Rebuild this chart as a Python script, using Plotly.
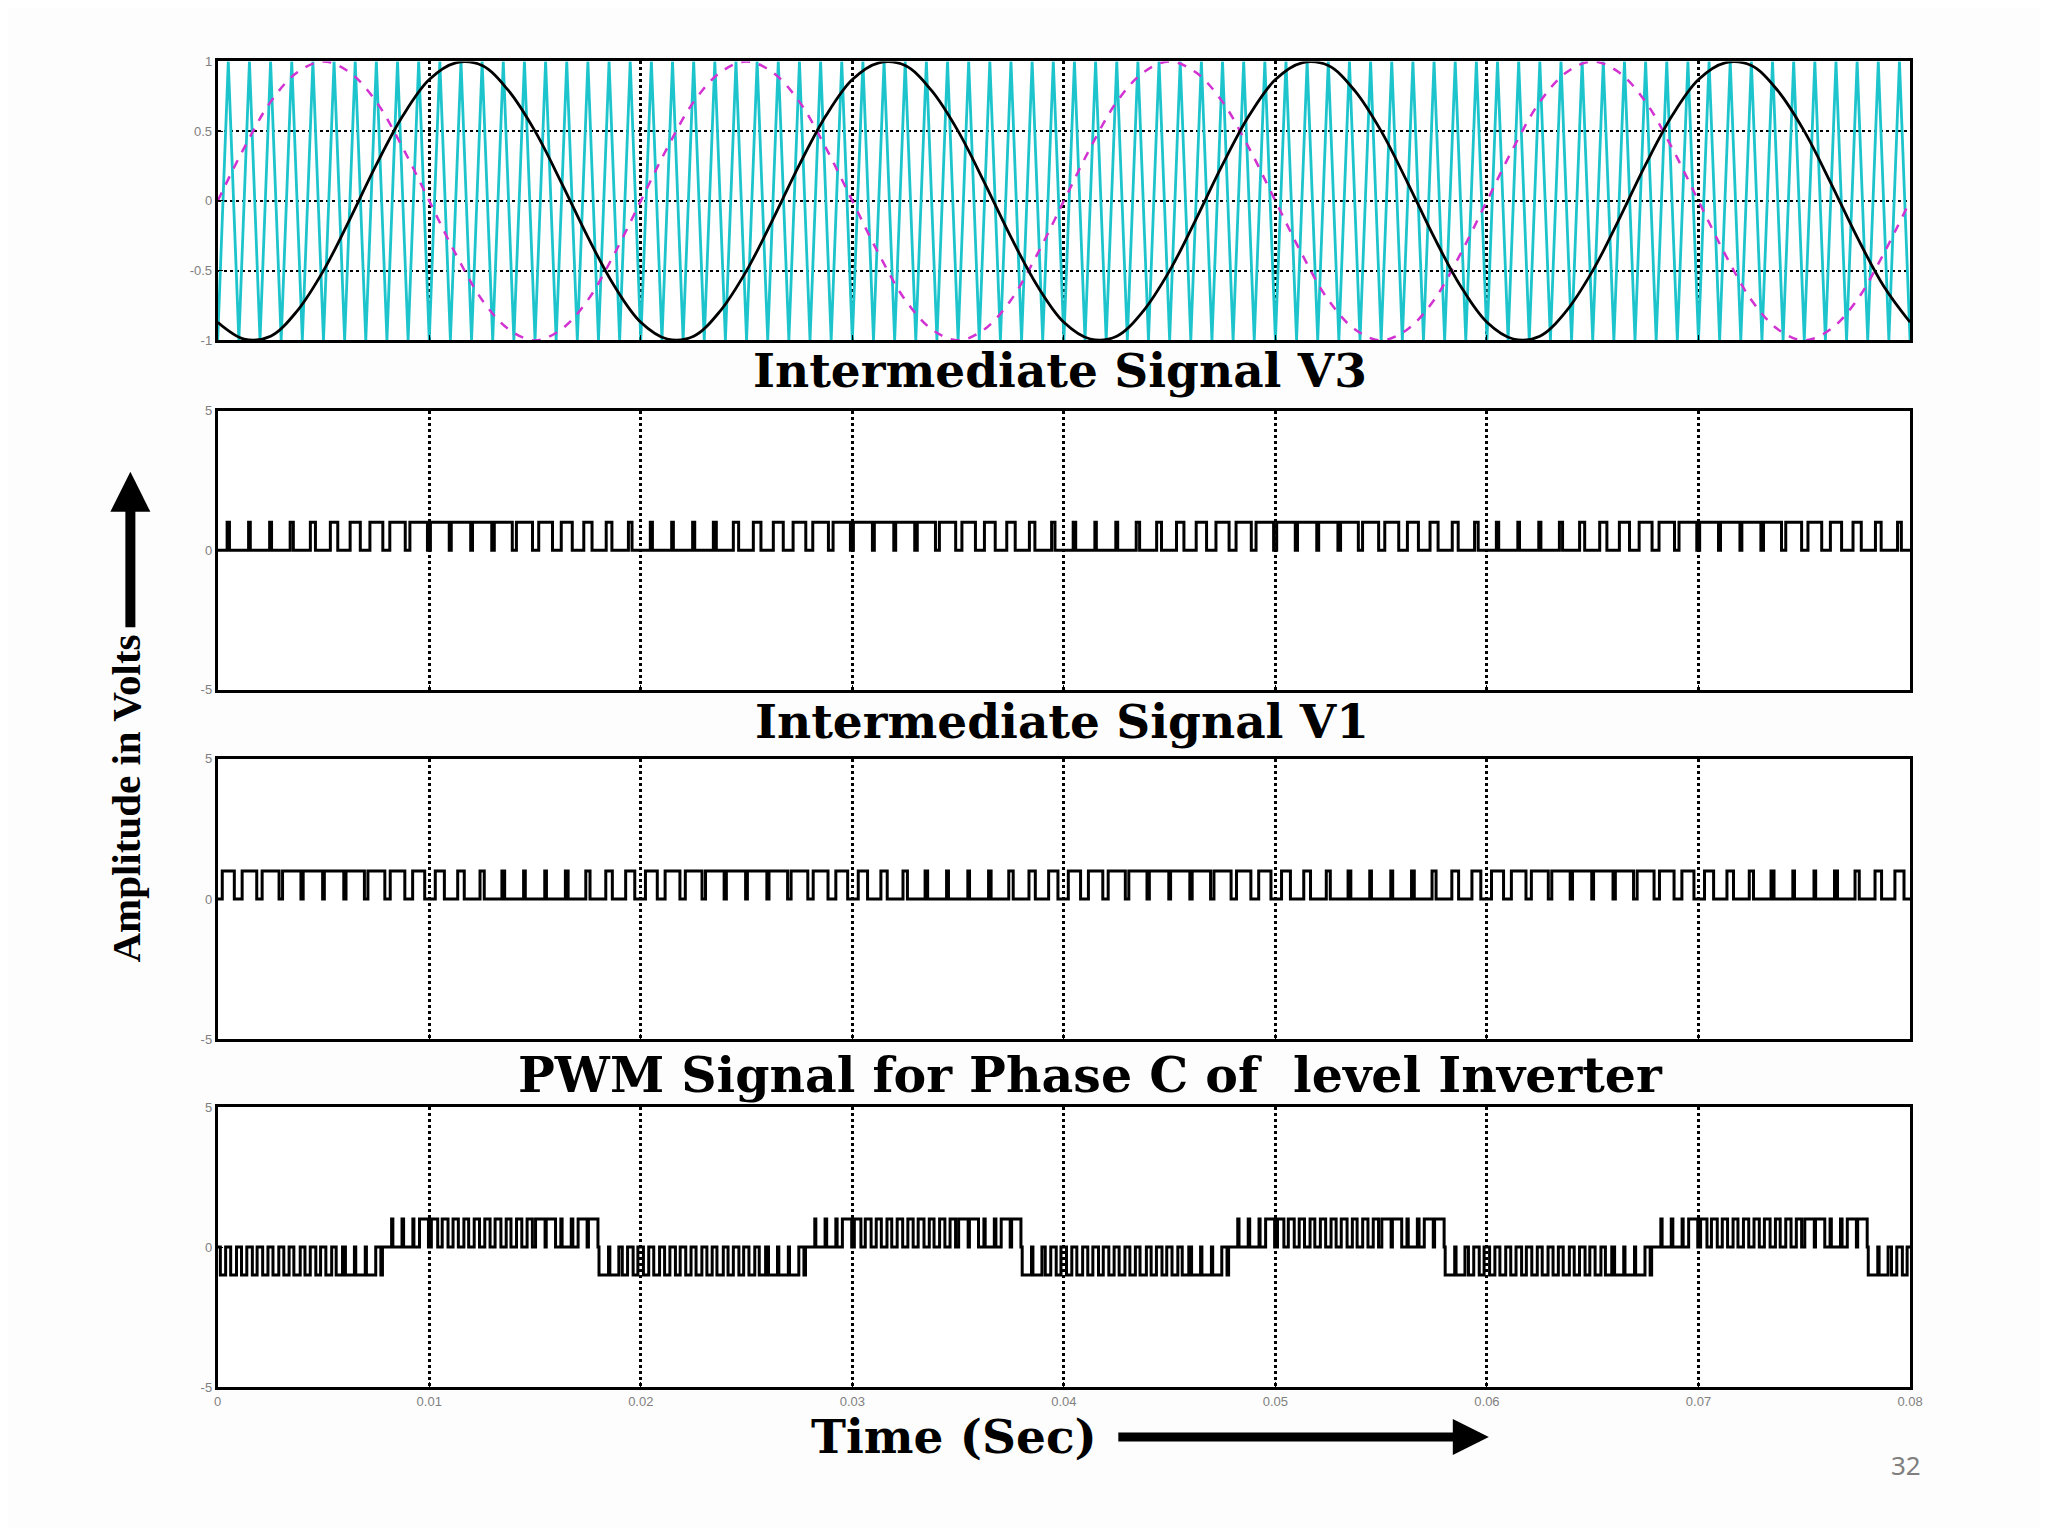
import plotly.graph_objects as go
from plotly.subplots import make_subplots

x_tick_vals = [0, 0.01, 0.02, 0.03, 0.04, 0.05, 0.06, 0.07, 0.08]
x_tick_text = ['0', '0.01', '0.02', '0.03', '0.04', '0.05', '0.06', '0.07', '0.08']

# top panel: triangular carrier vertices (ms) and their levels
carrier_ms = [
    0, 0.5, 1, 1.5, 2, 2.5, 3, 3.5, 4, 4.5, 5, 5.5, 6, 6.5, 7, 7.5, 8, 8.5, 9, 9.5,
    10, 10.5, 11, 11.5, 12, 12.5, 13, 13.5, 14, 14.5, 15, 15.5, 16, 16.5, 17, 17.5, 18, 18.5, 19, 19.5,
    20, 20.5, 21, 21.5, 22, 22.5, 23, 23.5, 24, 24.5, 25, 25.5, 26, 26.5, 27, 27.5, 28, 28.5, 29, 29.5,
    30, 30.5, 31, 31.5, 32, 32.5, 33, 33.5, 34, 34.5, 35, 35.5, 36, 36.5, 37, 37.5, 38, 38.5, 39, 39.5,
    40, 40.5, 41, 41.5, 42, 42.5, 43, 43.5, 44, 44.5, 45, 45.5, 46, 46.5, 47, 47.5, 48, 48.5, 49, 49.5,
    50, 50.5, 51, 51.5, 52, 52.5, 53, 53.5, 54, 54.5, 55, 55.5, 56, 56.5, 57, 57.5, 58, 58.5, 59, 59.5,
    60, 60.5, 61, 61.5, 62, 62.5, 63, 63.5, 64, 64.5, 65, 65.5, 66, 66.5, 67, 67.5, 68, 68.5, 69, 69.5,
    70, 70.5, 71, 71.5, 72, 72.5, 73, 73.5, 74, 74.5, 75, 75.5, 76, 76.5, 77, 77.5, 78, 78.5, 79, 79.5,
    80]
carrier_level = [
    -1, 1, -1, 1, -1, 1, -1, 1, -1, 1, -1, 1, -1, 1, -1, 1, -1, 1, -1, 1,
    -1, 1, -1, 1, -1, 1, -1, 1, -1, 1, -1, 1, -1, 1, -1, 1, -1, 1, -1, 1,
    -1, 1, -1, 1, -1, 1, -1, 1, -1, 1, -1, 1, -1, 1, -1, 1, -1, 1, -1, 1,
    -1, 1, -1, 1, -1, 1, -1, 1, -1, 1, -1, 1, -1, 1, -1, 1, -1, 1, -1, 1,
    -1, 1, -1, 1, -1, 1, -1, 1, -1, 1, -1, 1, -1, 1, -1, 1, -1, 1, -1, 1,
    -1, 1, -1, 1, -1, 1, -1, 1, -1, 1, -1, 1, -1, 1, -1, 1, -1, 1, -1, 1,
    -1, 1, -1, 1, -1, 1, -1, 1, -1, 1, -1, 1, -1, 1, -1, 1, -1, 1, -1, 1,
    -1, 1, -1, 1, -1, 1, -1, 1, -1, 1, -1, 1, -1, 1, -1, 1, -1, 1, -1, 1,
    -1]

# reference waves (ms)
ref_ms = [
    0, 1.25, 2.5, 3.75, 5, 6.25, 7.5, 8.75, 10, 11.25, 12.5, 13.75, 15, 16.25, 17.5, 18.75,
    20, 21.25, 22.5, 23.75, 25, 26.25, 27.5, 28.75, 30, 31.25, 32.5, 33.75, 35, 36.25, 37.5, 38.75,
    40, 41.25, 42.5, 43.75, 45, 46.25, 47.5, 48.75, 50, 51.25, 52.5, 53.75, 55, 56.25, 57.5, 58.75,
    60, 61.25, 62.5, 63.75, 65, 66.25, 67.5, 68.75, 70, 71.25, 72.5, 73.75, 75, 76.25, 77.5, 78.75,
    80]
ref_magenta = [
    0, 0.38, 0.71, 0.92, 1, 0.92, 0.71, 0.38, 0, -0.38, -0.71, -0.92, -1, -0.92, -0.71, -0.38,
    0, 0.38, 0.71, 0.92, 1, 0.92, 0.71, 0.38, 0, -0.38, -0.71, -0.92, -1, -0.92, -0.71, -0.38,
    0, 0.38, 0.71, 0.92, 1, 0.92, 0.71, 0.38, 0, -0.38, -0.71, -0.92, -1, -0.92, -0.71, -0.38,
    0, 0.38, 0.71, 0.92, 1, 0.92, 0.71, 0.38, 0, -0.38, -0.71, -0.92, -1, -0.92, -0.71, -0.38,
    0]
ref_black = [
    -0.87, -0.99, -0.97, -0.79, -0.5, -0.13, 0.26, 0.61, 0.87, 0.99, 0.97, 0.79, 0.5, 0.13, -0.26, -0.61,
    -0.87, -0.99, -0.97, -0.79, -0.5, -0.13, 0.26, 0.61, 0.87, 0.99, 0.97, 0.79, 0.5, 0.13, -0.26, -0.61,
    -0.87, -0.99, -0.97, -0.79, -0.5, -0.13, 0.26, 0.61, 0.87, 0.99, 0.97, 0.79, 0.5, 0.13, -0.26, -0.61,
    -0.87, -0.99, -0.97, -0.79, -0.5, -0.13, 0.26, 0.61, 0.87, 0.99, 0.97, 0.79, 0.5, 0.13, -0.26, -0.61,
    -0.87]

# intermediate signals: pulse width (fraction of a 1 ms slot)
slot_ms = 1.0
v3_duty = [
    0.11, 0.08, 0.09, 0.15, 0.24, 0.35, 0.48, 0.61, 0.73, 0.83, 0.89, 0.92, 0.91, 0.85, 0.76, 0.65, 0.52, 0.39, 0.27, 0.17,
    0.10, 0.08, 0.10, 0.14, 0.25, 0.36, 0.47, 0.60, 0.74, 0.82, 0.90, 0.92, 0.90, 0.86, 0.77, 0.64, 0.51, 0.40, 0.26, 0.16,
    0.12, 0.07, 0.09, 0.16, 0.23, 0.35, 0.49, 0.62, 0.72, 0.83, 0.88, 0.91, 0.91, 0.84, 0.76, 0.66, 0.52, 0.38, 0.28, 0.17,
    0.11, 0.08, 0.10, 0.15, 0.24, 0.34, 0.48, 0.61, 0.73, 0.84, 0.89, 0.92, 0.90, 0.85, 0.75, 0.65, 0.53, 0.39, 0.27, 0.18]
v1_duty = [
    0.57, 0.69, 0.80, 0.87, 0.92, 0.92, 0.87, 0.80, 0.69, 0.57, 0.43, 0.31, 0.20, 0.13, 0.08, 0.08, 0.13, 0.20, 0.31, 0.43,
    0.56, 0.70, 0.79, 0.88, 0.91, 0.92, 0.88, 0.79, 0.70, 0.56, 0.44, 0.30, 0.21, 0.12, 0.09, 0.08, 0.12, 0.21, 0.30, 0.44,
    0.58, 0.68, 0.81, 0.86, 0.92, 0.91, 0.87, 0.81, 0.68, 0.58, 0.42, 0.32, 0.19, 0.13, 0.08, 0.09, 0.13, 0.19, 0.32, 0.42,
    0.57, 0.69, 0.80, 0.87, 0.91, 0.92, 0.86, 0.80, 0.69, 0.57, 0.43, 0.31, 0.20, 0.14, 0.08, 0.08, 0.14, 0.20, 0.31, 0.43]

# phase C PWM: 0.5 ms slots, sign set by half cycles
pwm_slot_ms = 0.5
pwm_duty = [
    0.50, 0.55, 0.50, 0.45, 0.50, 0.55, 0.50, 0.60, 0.50, 0.45, 0.55, 0.60, 0.85, 0.90, 0.88, 0.15,
    0.12, 0.15, 0.10, 0.85, 0.60, 0.55, 0.50, 0.45, 0.50, 0.50, 0.55, 0.45, 0.50, 0.50, 0.90, 0.88, 0.12, 0.15, 0.85, 0.90,
    0.90, 0.85, 0.50, 0.45, 0.50, 0.55, 0.50, 0.45, 0.50, 0.55, 0.50, 0.60, 0.50, 0.45, 0.55, 0.60, 0.85, 0.90, 0.88, 0.15,
    0.10, 0.15, 0.12, 0.88, 0.62, 0.55, 0.48, 0.45, 0.52, 0.50, 0.55, 0.45, 0.50, 0.52, 0.90, 0.86, 0.12, 0.15, 0.85, 0.88,
    0.88, 0.85, 0.52, 0.45, 0.50, 0.55, 0.48, 0.45, 0.50, 0.55, 0.52, 0.60, 0.50, 0.45, 0.55, 0.62, 0.85, 0.90, 0.86, 0.15,
    0.12, 0.14, 0.10, 0.85, 0.60, 0.56, 0.50, 0.45, 0.50, 0.48, 0.55, 0.45, 0.50, 0.50, 0.88, 0.88, 0.12, 0.16, 0.85, 0.90,
    0.90, 0.84, 0.50, 0.46, 0.50, 0.55, 0.50, 0.45, 0.52, 0.55, 0.50, 0.58, 0.50, 0.45, 0.55, 0.60, 0.86, 0.90, 0.88, 0.14,
    0.12, 0.15, 0.10, 0.86, 0.60, 0.55, 0.50, 0.46, 0.50, 0.50, 0.54, 0.45, 0.50, 0.50, 0.90, 0.88, 0.12, 0.15, 0.86, 0.90,
    0.90, 0.85, 0.50, 0.45]
pwm_bounds_ms = [0, 8, 18, 28, 38, 48, 58, 68, 78, 80]
pwm_sign = [-1, 1, -1, 1, -1, 1, -1, 1, -1]


def pulse_train(duty, slot, levels):
    xs, ys = [0.0], [0.0]
    for k, d in enumerate(duty):
        c = (k + 0.5) * slot
        xs += [(c - d * slot / 2) / 1000, (c + d * slot / 2) / 1000]
        ys += [levels[k], 0]
    xs.append(0.08)
    ys.append(0)
    return xs, ys


def pwm_levels():
    out = []
    for k in range(len(pwm_duty)):
        c = (k + 0.5) * pwm_slot_ms
        for i in range(len(pwm_sign)):
            if pwm_bounds_ms[i] <= c < pwm_bounds_ms[i + 1]:
                out.append(pwm_sign[i])
                break
    return out


W, H = 2032, 1520


def px(x, y):
    # screen pixel -> paper coords (page offset/scale measured from a render)
    fx = (x - 9.4) / 0.9935
    fy = (y - 12.3) / 0.992
    return fx / W, 1 - fy / H


fig = make_subplots(rows=4, cols=1)

fig.add_trace(go.Scatter(x=[t / 1000 for t in carrier_ms], y=carrier_level, mode='lines',
                         line=dict(color='rgb(30,196,204)', width=2.8)), row=1, col=1)
fig.add_trace(go.Scatter(x=[t / 1000 for t in ref_ms], y=ref_magenta, mode='lines',
                         line=dict(color='rgb(210,50,210)', width=2.5, dash='dash', shape='spline')),
              row=1, col=1)
fig.add_trace(go.Scatter(x=[t / 1000 for t in ref_ms], y=ref_black, mode='lines',
                         line=dict(color='black', width=2.8, shape='spline')), row=1, col=1)

x3, y3 = pulse_train(v3_duty, slot_ms, [1] * len(v3_duty))
fig.add_trace(go.Scatter(x=x3, y=y3, mode='lines', line=dict(color='black', width=3, shape='hv')),
              row=2, col=1)
x1, y1 = pulse_train(v1_duty, slot_ms, [1] * len(v1_duty))
fig.add_trace(go.Scatter(x=x1, y=y1, mode='lines', line=dict(color='black', width=3, shape='hv')),
              row=3, col=1)
xp, yp = pulse_train(pwm_duty, pwm_slot_ms, pwm_levels())
fig.add_trace(go.Scatter(x=xp, y=yp, mode='lines', line=dict(color='black', width=3, shape='hv')),
              row=4, col=1)

tick_font = dict(family='Liberation Sans', size=13, color='#808080')
x_dom = [px(215.5, 0)[0], px(1911, 0)[0]]
panel_px = [(58.8, 338.3), (408.8, 688.3), (757.6, 1038.4), (1106.3, 1387.1)]
for i in range(4):
    top, bot = panel_px[i]
    dom = [px(0, bot)[1], px(0, top)[1]]
    fig.update_xaxes(row=i + 1, col=1, domain=x_dom, range=[0, 0.08],
                     tickvals=x_tick_vals, ticktext=x_tick_text, showticklabels=(i == 3),
                     showgrid=True, griddash='dot', gridcolor='black', gridwidth=2.5,
                     showline=True, mirror=True, linecolor='black', linewidth=3,
                     ticks='inside', ticklen=5, tickcolor='black', zeroline=False,
                     tickfont=tick_font)
    if i == 0:
        fig.update_yaxes(row=1, col=1, domain=dom, range=[-1, 1],
                         tickvals=[-1, -0.5, 0, 0.5, 1], ticktext=['-1', '-0.5', '0', '0.5', '1'],
                         showgrid=True, griddash='dot', gridcolor='black', gridwidth=2)
    else:
        fig.update_yaxes(row=i + 1, col=1, domain=dom, range=[-5, 5],
                         tickvals=[-5, 0, 5], ticktext=['-5', '0', '5'], showgrid=False)
    fig.update_yaxes(row=i + 1, col=1, showline=True, mirror=True, linecolor='black', linewidth=3,
                     ticks='inside', ticklen=5, tickcolor='black', zeroline=False, tickfont=tick_font)

notes = [
    ('<b>Intermediate Signal V3</b>', 1059, 368, 47),
    ('<b>Intermediate Signal V1</b>', 1061, 720, 47),
    ('<b>PWM Signal for Phase C of \u00a0level Inverter</b>', 1090, 1074, 49),
    ('<b>Time (Sec)</b>', 953, 1436, 47),
]
for text, x, y, size in notes:
    px_, py_ = px(x, y)
    fig.add_annotation(text=text, x=px_, y=py_, xref='paper', yref='paper', showarrow=False,
                       xanchor='center', yanchor='middle',
                       font=dict(family='DejaVu Serif', size=size, color='black'))

ax_, ay_ = px(124, 797)
fig.add_annotation(text='<b>Amplitude in Volts</b>', x=ax_, y=ay_, xref='paper', yref='paper',
                   showarrow=False, textangle=-90, xanchor='center', yanchor='middle',
                   font=dict(family='Liberation Serif', size=41, color='black'))
# axis direction arrows
ux, uy = px(128, 470)
fig.add_annotation(text='', x=ux, y=uy, xref='paper', yref='paper', showarrow=True,
                   ax=0, ay=157, arrowhead=2, arrowsize=0.8, arrowwidth=10, arrowcolor='black')
rx, ry = px(1489, 1437)
fig.add_annotation(text='', x=rx, y=ry, xref='paper', yref='paper', showarrow=True,
                   ax=-372, ay=0, arrowhead=2, arrowsize=0.8, arrowwidth=9, arrowcolor='black')
nx, ny = px(1907, 1465)
fig.add_annotation(text='32', x=nx, y=ny, xref='paper', yref='paper', showarrow=False,
                   xanchor='center', yanchor='middle',
                   font=dict(family='Noto Sans', size=26, color='#7f7f7f'))

fig.update_layout(width=W, height=H, showlegend=False,
                  margin=dict(l=0, r=0, t=0, b=0),
                  paper_bgcolor='rgb(253,253,253)', plot_bgcolor='white')

fig.write_html("out.html")
